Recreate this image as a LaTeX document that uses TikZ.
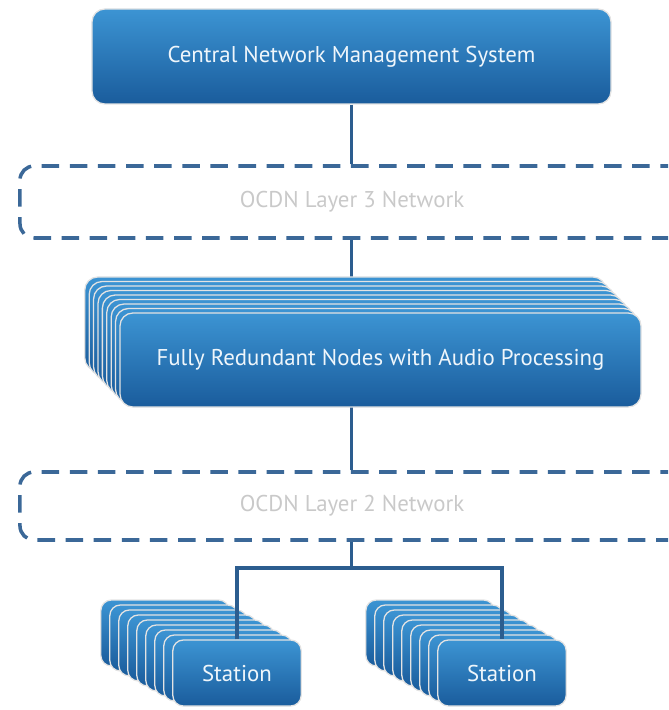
\documentclass[tikz,border=0pt]{standalone}
\usepackage{fontspec}
\setmainfont{PT Sans}
\usepackage{tikz}
\definecolor{blutop}{HTML}{3C94D3}
\definecolor{blubot}{HTML}{1A5C9C}
\definecolor{wire}{HTML}{2C5D8F}
\definecolor{dashblu}{HTML}{3B6898}
\definecolor{nettxt}{HTML}{C9C9C9}

\begin{document}
\begin{tikzpicture}[x=0.03cm, y=-0.03cm,
    blk/.style={rounded corners=11pt, draw=white!78!gray, line width=1.1pt,
        top color=blutop, bottom color=blubot, text=white!92!blutop,
        font=\fontsize{19.5}{23}\selectfont, inner sep=0pt},
    net/.style={draw=dashblu, line width=3pt, dash pattern=on 15pt off 9pt,
        rounded corners=12pt, inner sep=0pt},
    nettext/.style={text=nettxt, font=\fontsize{19.5}{23}\selectfont},
    wire/.style={draw=wire, line width=2.8pt}]
    \useasboundingbox (0,0) rectangle (668,710);
    \clip (0,0) rectangle (668,710);

    \node[blk, minimum width=15.57cm, minimum height=2.85cm] (central) at (351.5,56.5) {Central Network Management System};

    \node[net, minimum width=21cm, minimum height=2.16cm] (l3) at (370,202) {};
    \node[nettext] (l3txt) at (352,202) {OCDN Layer 3 Network};

    \node[net, minimum width=21cm, minimum height=2.04cm] (l2) at (370,506) {};
    \node[nettext] (l2txt) at (352,506) {OCDN Layer 2 Network};

    \draw[wire] (central.south) -- (central.south |- l3.north);
    \draw[wire] (l3.south -| central.south) -- (central.south |- 0,278);
    \draw[wire] (central.south |- 0,407) -- (l2.north -| central.south);

    \foreach \k in {8,...,1}
        \node[blk, minimum width=15.63cm, minimum height=2.82cm] (red\k) at ({380.5-4.4*\k},{360-4.5*\k}) {};
    \node[blk, minimum width=15.63cm, minimum height=2.82cm] (red) at (380.5,360) {Fully Redundant Nodes with Audio Processing};

    \foreach \k in {8,...,1} {
        \node[blk, rounded corners=9pt, minimum width=3.85cm, minimum height=1.98cm] (staA\k) at ({237-9*\k},{673-5*\k}) {};
        \node[blk, rounded corners=9pt, minimum width=3.85cm, minimum height=1.98cm] (staB\k) at ({502-9*\k},{673-5*\k}) {};
    }
    \node[blk, rounded corners=9pt, minimum width=3.85cm, minimum height=1.98cm] (staA) at (237,673) {Station};
    \node[blk, rounded corners=9pt, minimum width=3.85cm, minimum height=1.98cm] (staB) at (502,673) {Station};

    \coordinate (split) at (central.south |- 0,568);
    \draw[wire] (l2.south -| split) -- (split);
    \draw[wire] (staA.north) |- (split) -| (staB.north);
\end{tikzpicture}
\end{document}
